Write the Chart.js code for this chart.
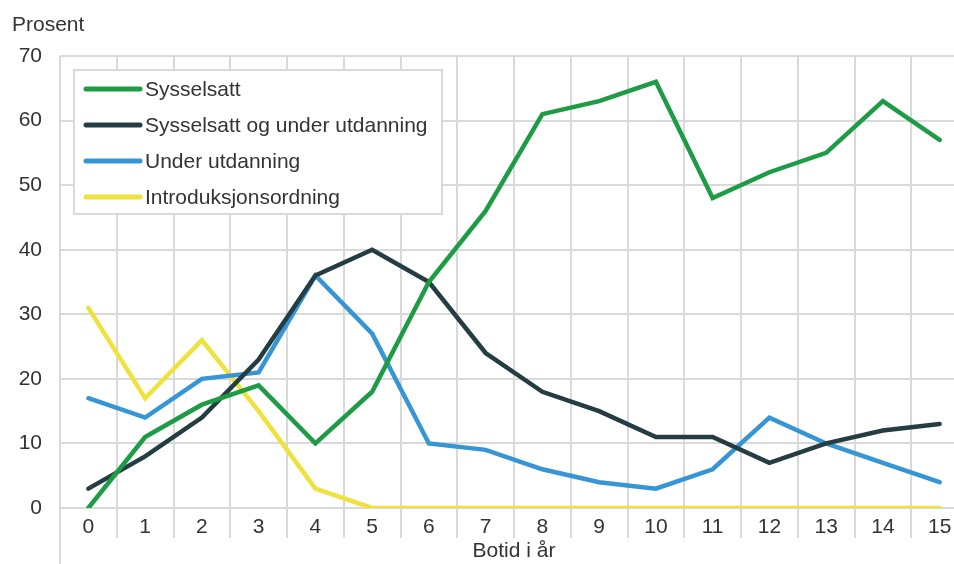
<!DOCTYPE html>
<html>
<head>
<meta charset="utf-8">
<script src="https://cdn.jsdelivr.net/npm/chart.js@4/dist/chart.umd.min.js"></script>
<style>
  html, body { margin: 0; padding: 0; background: #fff; overflow: hidden; }
  #wrap { width: 980px; height: 564px; }
</style>
</head>
<body>
<div id="wrap"><canvas id="chart" width="980" height="564"></canvas></div>
<script>
const years = ['0', '1', '2', '3', '4', '5', '6', '7', '8', '9', '10', '11', '12', '13', '14', '15'];
const sysselsatt = [0, 11, 16, 19, 10, 18, 35, 46, 61, 63, 66, 48, 52, 55, 63, 57];
const sysselsattUtdanning = [3, 8, 14, 23, 36, 40, 35, 24, 18, 15, 11, 11, 7, 10, 12, 13];
const underUtdanning = [17, 14, 20, 21, 36, 27, 10, 9, 6, 4, 3, 6, 14, 10, 7, 4];
const introduksjon = [31, 17, 26, 15, 3, 0, 0, 0, 0, 0, 0, 0, 0, 0, 0, 0];

const FONT = "'Liberation Sans', Arial, sans-serif";
const FONT_SIZE = 21;
const TEXT = '#333333';
const GRID = '#d9d9d9';

// axis title on top, left line running to the bottom, legend box inside the plot
const extras = {
    id: 'extras',
    afterDatasetsDraw(chart) {
        const ctx = chart.ctx;
        const area = chart.chartArea;
        ctx.save();
        ctx.strokeStyle = GRID;
        ctx.lineWidth = 2;
        ctx.beginPath();
        ctx.moveTo(area.left, area.top);
        ctx.lineTo(area.left, chart.height);
        ctx.stroke();

        ctx.font = FONT_SIZE + 'px ' + FONT;
        ctx.fillStyle = TEXT;
        ctx.textBaseline = 'middle';
        ctx.textAlign = 'left';
        ctx.fillText('Prosent', 12, 25);

        const bx = area.left + 14, by = area.top + 14, bw = 368, bh = 144;
        ctx.fillStyle = '#fff';
        ctx.fillRect(bx, by, bw, bh);
        ctx.strokeRect(bx, by, bw, bh);
        chart.data.datasets.forEach((ds, i) => {
            const y = by + 19 + i * 36;
            ctx.strokeStyle = ds.borderColor;
            ctx.lineWidth = 5;
            ctx.lineCap = 'round';
            ctx.beginPath();
            ctx.moveTo(bx + 12, y);
            ctx.lineTo(bx + 66, y);
            ctx.stroke();
            ctx.fillStyle = TEXT;
            ctx.fillText(ds.label, bx + 71, y + 1);
        });
        ctx.restore();
    }
};

const line = (label, data, color) => ({
    label: label,
    data: data,
    borderColor: color,
    backgroundColor: color,
    borderWidth: 4.5,
    borderCapStyle: 'round',
    pointRadius: 0,
    tension: 0
});

new Chart(document.getElementById('chart'), {
    type: 'line',
    data: {
        labels: years,
        datasets: [
            line('Sysselsatt', sysselsatt, '#1d9c45'),
            line('Sysselsatt og under utdanning', sysselsattUtdanning, '#243d42'),
            line('Under utdanning', underUtdanning, '#3695d5'),
            line('Introduksjonsordning', introduksjon, '#efe23c')
        ]
    },
    options: {
        responsive: false,
        animation: false,
        layout: { padding: { top: 56, right: 12, left: 0, bottom: 0 } },
        plugins: {
            legend: { display: false },
            tooltip: { enabled: false }
        },
        scales: {
            x: {
                offset: true,
                grid: { offset: true, color: GRID, lineWidth: 2, tickLength: 30 },
                border: { display: false },
                ticks: { color: TEXT, font: { family: FONT, size: FONT_SIZE }, padding: -23, maxRotation: 0 },
                title: { display: true, text: 'Botid i år', color: TEXT, font: { family: FONT, size: FONT_SIZE }, padding: { top: 0, bottom: 0 } },
                afterFit(scale) { scale.height = 56; }
            },
            y: {
                min: 0,
                max: 70,
                ticks: { stepSize: 10, color: TEXT, font: { family: FONT, size: FONT_SIZE }, padding: 18 },
                grid: { color: GRID, lineWidth: 2, drawTicks: false },
                border: { display: false },
                afterFit(scale) { scale.width = 60; }
            }
        }
    },
    plugins: [extras]
});
</script>
</body>
</html>
